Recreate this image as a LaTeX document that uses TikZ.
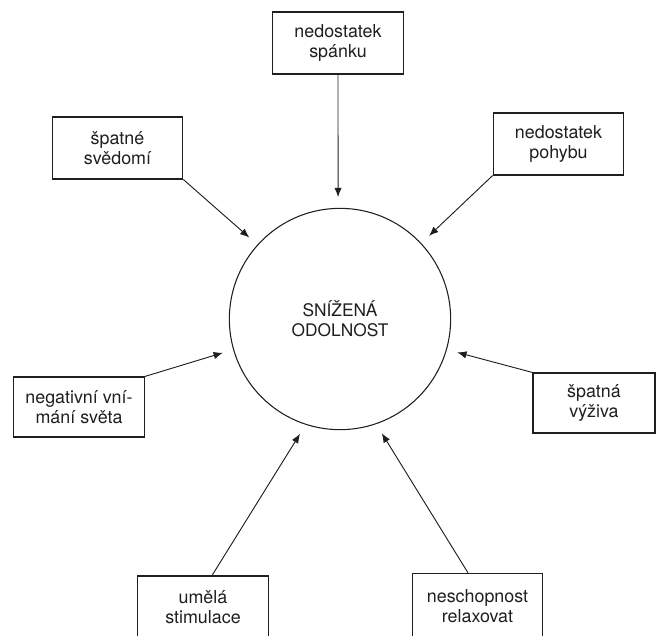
\documentclass[tikz,border=0pt]{standalone}
\usepackage{fontspec}
\setmainfont{TeX Gyre Heros}
\usepackage{tikz}
\usetikzlibrary{positioning, arrows.meta}

\definecolor{ink}{gray}{0.12}

\begin{document}
\begin{tikzpicture}[
    	x=0.75pt, y=-0.75pt,
    	cause/.style={rectangle, draw=ink, line width=0.8pt, text=ink, align=center,
    	    minimum width=98pt, minimum height=46.5pt, inner sep=2pt,
    	    font=\fontsize{13.4}{15.5}\selectfont},
    	effect/.style={circle, draw=ink, line width=0.8pt, text=ink, align=center,
    	    minimum size=166pt, font=\fontsize{13}{15}\selectfont},
    	arr/.style={-{Latex[length=7pt, width=5.5pt]}, draw=ink, line width=0.7pt, shorten >=8pt},
    ]
    \useasboundingbox (0,0) rectangle (656,635);
    % Centre
    \node[effect] (odolnost) at (340,319) {SNÍŽENÁ\\ODOLNOST};
    % Causes
    \node[cause] (nedostatek_spanku) at (338,43) {nedostatek\\spánku};
    \node[cause] (spatne_svedomi) at (117.5,148) {špatné\\svědomí};
    \node[cause] (nedostatek_pohybu) at (558.5,144) {nedostatek\\pohybu};
    \node[cause, minimum height=45pt] (negativni_vnimani) at (79,407) {negativní vní-\\mání světa};
    \node[cause, minimum width=91.5pt, minimum height=45pt] (spatna_vyziva) at (594,403) {špatná\\výživa};
    \node[cause] (umela_stimulace) at (203,607) {umělá\\stimulace};
    \node[cause, minimum height=49pt] (neschopnost_relaxovat) at (477.5,606) {neschopnost\\relaxovat};
    
    % Edges into the circle
    \draw[arr] (nedostatek_spanku.south) -- (odolnost.91);
    \draw[arr] (spatne_svedomi.south east) -- (odolnost.138);
    \draw[arr] (nedostatek_pohybu.south west) -- (odolnost.43);
    \draw[arr] (negativni_vnimani.north east) -- (odolnost.196);
    \draw[arr] (spatna_vyziva.north west) -- (odolnost.344);
    \draw[arr] (umela_stimulace.74) -- (odolnost.252);
    \draw[arr] (neschopnost_relaxovat.106) -- (odolnost.289);
\end{tikzpicture}
\end{document}
